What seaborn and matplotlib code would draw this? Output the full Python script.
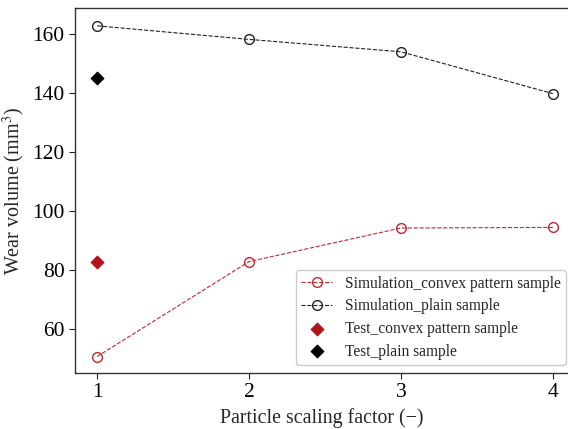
import matplotlib
matplotlib.use("Agg")
import matplotlib.pyplot as plt
import seaborn as sns
import pandas as pd

sns.set_style("ticks")
plt.rcParams['font.family'] = ['Liberation Serif', 'DejaVu Serif']
plt.rcParams['mathtext.fontset'] = 'stix'

factors = [1, 2, 3, 4]
sim_convex = [50.6, 82.8, 94.2, 94.4]
sim_plain = [162.8, 158.2, 154.0, 139.8]
test_factor = [1]
test_convex = [82.7]
test_plain = [145.0]

red = '#c0272d'
dred = '#b01218'

fig = plt.figure(figsize=(5.68, 4.29), dpi=100)
ax = fig.add_axes([0.132, 0.1305, 0.868, 0.8505])

df_c = pd.DataFrame({'x': factors, 'y': sim_convex})
df_p = pd.DataFrame({'x': factors, 'y': sim_plain})
sns.lineplot(data=df_c, x='x', y='y', ax=ax, color=red, linestyle='--', linewidth=0.8,
             marker='o', markersize=7, markerfacecolor='none', markeredgecolor=red,
             markeredgewidth=1.0, label='Simulation_convex pattern sample')
sns.lineplot(data=df_p, x='x', y='y', ax=ax, color='#222222', linestyle='--', linewidth=0.8,
             marker='o', markersize=7, markerfacecolor='none', markeredgecolor='#222222',
             markeredgewidth=1.0, label='Simulation_plain sample')
sns.scatterplot(x=test_factor, y=test_convex, ax=ax, marker='D', s=45, color=dred,
                edgecolor=dred, label='Test_convex pattern sample')
sns.scatterplot(x=test_factor, y=test_plain, ax=ax, marker='D', s=45, color='black',
                edgecolor='black', label='Test_plain sample')

ax.set_xlim(0.854, 4.1)
ax.set_ylim(45, 168.8)
ax.set_xticks([1, 2, 3, 4])
ax.set_yticks([60, 80, 100, 120, 140, 160])
ax.tick_params(labelsize=15.5, direction='out', length=4, width=0.8, colors='#222222',
               labelcolor='black')
ax.set_xlabel('Particle scaling factor (\u2212)', fontsize=14.3)
ax.set_ylabel('Wear volume (mm$^3$)', fontsize=14.5)
ax.spines['right'].set_visible(False)
for s in ['left', 'bottom', 'top']:
    ax.spines[s].set_linewidth(1.0)
    ax.spines[s].set_color('#333333')

ax.legend(loc='lower right', fontsize=11.2, frameon=True, framealpha=1,
          edgecolor='#cccccc', borderpad=0.35, handlelength=2.0, labelspacing=0.42,
          borderaxespad=0, bbox_to_anchor=(0.996, 0.022))

fig.savefig('out.png', dpi=100)
